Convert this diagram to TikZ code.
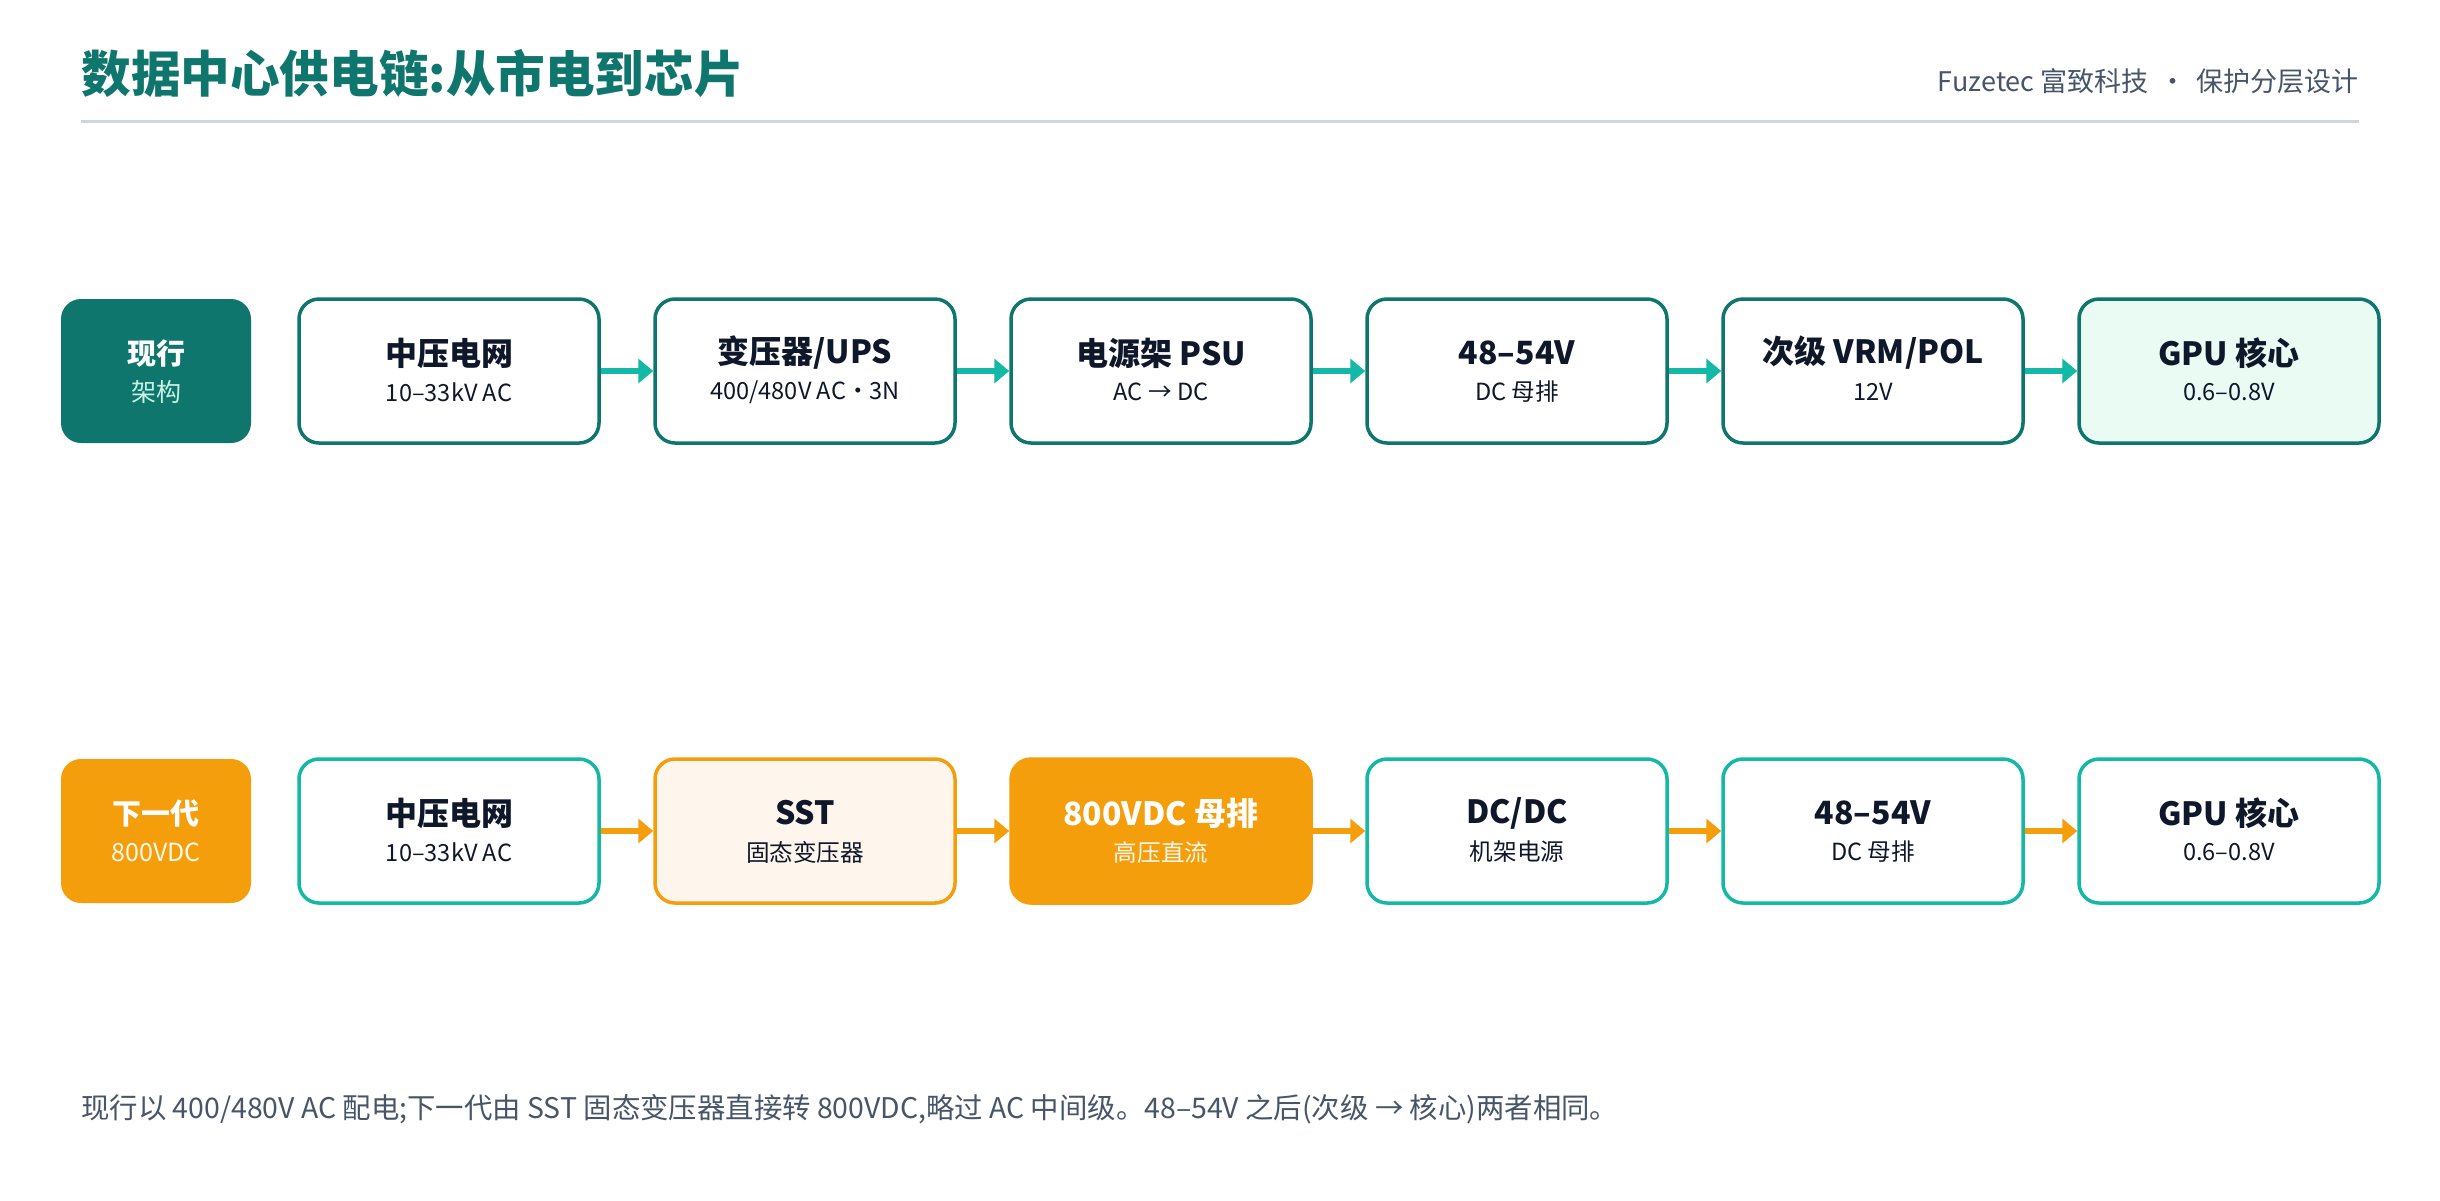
\documentclass[tikz,border=0pt]{standalone}
\usepackage{fontspec}
\setmainfont{Noto Sans CJK SC}
\usetikzlibrary{arrows.meta}
\definecolor{tealdark}{HTML}{0F766E}
\definecolor{tealbright}{HTML}{14B8A6}
\definecolor{orangec}{HTML}{F59E0B}
\definecolor{creamc}{HTML}{FEF6EC}
\definecolor{mintc}{HTML}{EAFBF3}
\definecolor{inkc}{HTML}{0F172A}
\definecolor{slatec}{HTML}{475569}
\definecolor{rulec}{HTML}{CFD6E0}
\definecolor{palemint}{HTML}{C7F2E4}
\begin{document}
\begin{tikzpicture}[x=0.5pt,y=-0.5pt,
  stagebox/.style={rectangle, rounded corners=10pt, minimum width=150pt, minimum height=72pt, line width=1.75pt, inner sep=0pt},
  rowlabel/.style={rectangle, rounded corners=10pt, minimum width=95pt, minimum height=72pt, inner sep=0pt},
  cur/.style={stagebox, draw=tealdark, fill=white},
  curgpu/.style={stagebox, draw=tealdark, fill=mintc},
  nxt/.style={stagebox, draw=tealbright, fill=white},
  sst/.style={stagebox, draw=orangec, fill=creamc},
  bus/.style={stagebox, draw=orangec, fill=orangec},
  ttl/.style={inner sep=0pt, font=\bfseries\fontsize{16}{19}\selectfont, text=inkc},
  sub/.style={inner sep=0pt, font=\fontsize{11.8}{14}\selectfont, text=inkc},
  flowteal/.style={line width=3pt, draw=tealbright, -{Triangle[length=7.5pt,width=12pt]}},
  floworange/.style={line width=3pt, draw=orangec, -{Triangle[length=7.5pt,width=12pt]}}
]
\useasboundingbox (0,0) rectangle (2440,1200);
\fill[white] (0,0) rectangle (2440,1200);

% header
\node[anchor=west, inner sep=0pt, font=\bfseries\fontsize{24.8}{29}\selectfont, text=tealdark] (title) at (81,74) {数据中心供电链:从市电到芯片};
\node[anchor=east, inner sep=0pt, font=\fontsize{13.5}{16}\selectfont, text=slatec] (brand) at (2359,81) {Fuzetec 富致科技 \,·\, 保护分层设计};
\coordinate (ruleL) at (81,121);
\coordinate (ruleR) at (2359,121);
\draw[line width=1.5pt, rulec] (ruleL) -- (ruleR);

% row 1 label
\node[rowlabel, fill=tealdark] (lab1) at (156,371) {};
\node[inner sep=0pt, font=\bfseries\fontsize{14.5}{17}\selectfont, text=white] (lab1t) at ([yshift=9pt]lab1.center) {现行};
\node[inner sep=0pt, font=\fontsize{12.5}{14}\selectfont, text=palemint] (lab1s) at ([yshift=-10.5pt]lab1.center) {架构};

% row 1 stages
\node[cur] (a1) at (449,371) {};
\node[cur] (a2) at (805,371) {};
\node[cur] (a3) at (1161,371) {};
\node[cur] (a4) at (1517,371) {};
\node[cur] (a5) at (1873,371) {};
\node[curgpu] (a6) at (2229,371) {};

\node[ttl] (a1t) at ([yshift=9pt]a1.center) {中压电网};
\node[sub] (a1s) at ([yshift=-10.5pt]a1.center) {10–33kV AC};
\node[ttl] (a2t) at ([yshift=9pt]a2.center) {变压器/UPS};
\node[sub] (a2s) at ([yshift=-10.5pt]a2.center) {400/480V AC・3N};
\node[ttl] (a3t) at ([yshift=9pt]a3.center) {电源架 PSU};
\node[sub] (a3s) at ([yshift=-10.5pt]a3.center) {AC → DC};
\node[ttl] (a4t) at ([yshift=9pt]a4.center) {48–54V};
\node[sub] (a4s) at ([yshift=-10.5pt]a4.center) {DC 母排};
\node[ttl] (a5t) at ([yshift=9pt]a5.center) {次级 VRM/POL};
\node[sub] (a5s) at ([yshift=-10.5pt]a5.center) {12V};
\node[ttl] (a6t) at ([yshift=9pt]a6.center) {GPU 核心};
\node[sub] (a6s) at ([yshift=-10.5pt]a6.center) {0.6–0.8V};

\draw[flowteal] (a1.east) -- (a2.west);
\draw[flowteal] (a2.east) -- (a3.west);
\draw[flowteal] (a3.east) -- (a4.west);
\draw[flowteal] (a4.east) -- (a5.west);
\draw[flowteal] (a5.east) -- (a6.west);

% row 2 label
\node[rowlabel, fill=orangec] (lab2) at (156,831) {};
\node[inner sep=0pt, font=\bfseries\fontsize{14.5}{17}\selectfont, text=white] (lab2t) at ([yshift=9pt]lab2.center) {下一代};
\node[inner sep=0pt, font=\fontsize{12.5}{14}\selectfont, text=white!92!orangec] (lab2s) at ([yshift=-10.5pt]lab2.center) {800VDC};

% row 2 stages
\node[nxt] (b1) at (449,831) {};
\node[sst] (b2) at (805,831) {};
\node[bus] (b3) at (1161,831) {};
\node[nxt] (b4) at (1517,831) {};
\node[nxt] (b5) at (1873,831) {};
\node[nxt] (b6) at (2229,831) {};

\node[ttl] (b1t) at ([yshift=9pt]b1.center) {中压电网};
\node[sub] (b1s) at ([yshift=-10.5pt]b1.center) {10–33kV AC};
\node[ttl] (b2t) at ([yshift=9pt]b2.center) {SST};
\node[sub] (b2s) at ([yshift=-10.5pt]b2.center) {固态变压器};
\node[ttl, text=white] (b3t) at ([yshift=9pt]b3.center) {800VDC 母排};
\node[sub, text=white!92!orangec] (b3s) at ([yshift=-10.5pt]b3.center) {高压直流};
\node[ttl] (b4t) at ([yshift=9pt]b4.center) {DC/DC};
\node[sub] (b4s) at ([yshift=-10.5pt]b4.center) {机架电源};
\node[ttl] (b5t) at ([yshift=9pt]b5.center) {48–54V};
\node[sub] (b5s) at ([yshift=-10.5pt]b5.center) {DC 母排};
\node[ttl] (b6t) at ([yshift=9pt]b6.center) {GPU 核心};
\node[sub] (b6s) at ([yshift=-10.5pt]b6.center) {0.6–0.8V};

\draw[floworange] (b1.east) -- (b2.west);
\draw[floworange] (b2.east) -- (b3.west);
\draw[floworange] (b3.east) -- (b4.west);
\draw[floworange] (b4.east) -- (b5.west);
\draw[floworange] (b5.east) -- (b6.west);

% footnote
\node[anchor=west, inner sep=0pt, font=\fontsize{14.2}{17}\selectfont, text=slatec] (note) at (81,1109) {现行以 400/480V AC 配电;下一代由 SST 固态变压器直接转 800VDC,略过 AC 中间级。48–54V 之后(次级 → 核心)两者相同。};
\end{tikzpicture}
\end{document}
